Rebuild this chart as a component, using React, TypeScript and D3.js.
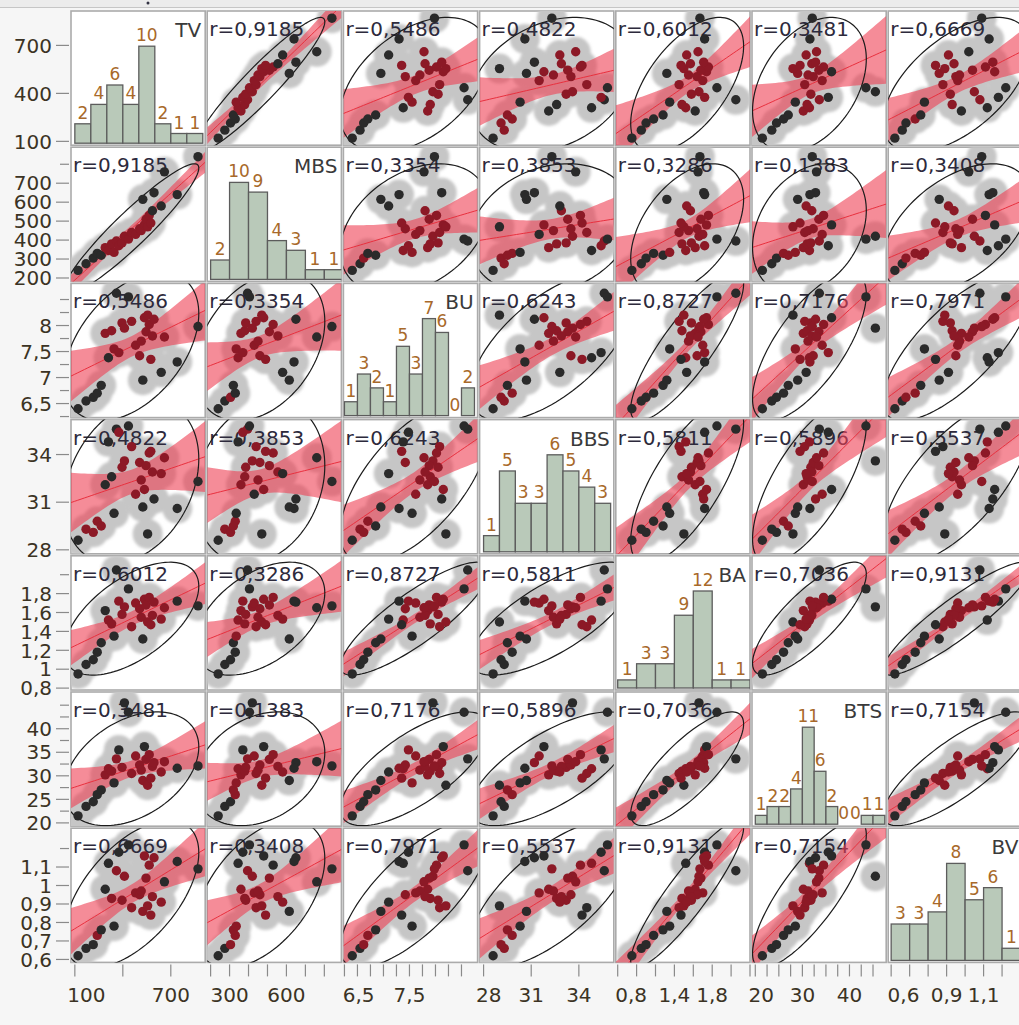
import React, { useEffect, useRef } from 'react';
import * as d3 from 'd3';

// variables in matrix order
const variables = ['TV', 'MBS', 'BU', 'BBS', 'BA', 'BTS', 'BV'];

const tv = [120, 170, 215, 240, 265, 290, 310, 330, 345, 360, 375, 395, 410, 435, 455, 480, 505, 515, 525, 535, 545, 555, 565, 575, 585, 595, 640, 660, 740, 870];
const mbs = [240, 275, 305, 330, 320, 360, 345, 380, 335, 395, 370, 385, 420, 405, 440, 430, 460, 450, 615, 480, 510, 470, 530, 490, 555, 650, 580, 760, 640, 840];
const bu = [6.4, 6.55, 6.62, 6.7, 6.85, 7.85, 7.38, 7.9, 7.55, 8.62, 7.48, 8.05, 7.95, 8.55, 8.08, 7.62, 7.42, 7.7, 6.95, 8.15, 7.88, 8.2, 8.02, 7.35, 7.8, 8.12, 7.1, 7.78, 7.3, 7.98];
const bbs = [28.6, 29.3, 29.1, 29.8, 29.5, 32.1, 34.8, 32.6, 30.3, 35.6, 35.4, 33.2, 33.6, 35.8, 34.5, 31.5, 33.5, 32.4, 30.7, 31.8, 33.3, 29.0, 34.1, 34.2, 32.9, 31.2, 32.8, 33.8, 30.6, 32.3];
const ba = [0.95, 1.05, 1.1, 1.18, 1.28, 1.62, 1.52, 1.48, 1.35, 2.05, 1.72, 1.58, 1.66, 1.85, 1.45, 1.7, 1.64, 1.55, 1.32, 1.74, 1.68, 1.5, 1.76, 1.47, 1.57, 1.71, 1.53, 1.65, 1.72, 1.67];
const bts = [21.5, 23.5, 24.5, 26.0, 27.0, 30.2, 31.5, 31.0, 28.5, 33.6, 35.5, 31.8, 45.5, 43.5, 30.5, 34.2, 32.3, 31.2, 29.0, 36.2, 33.5, 28.0, 34.5, 29.5, 32.0, 32.8, 30.8, 33.0, 31.6, 32.1];
const bv = [0.62, 0.66, 0.68, 0.73, 0.76, 0.98, 1.12, 0.93, 0.78, 1.08, 1.18, 0.92, 1.05, 1.22, 0.88, 0.96, 0.95, 0.97, 0.86, 1.16, 1.04, 0.89, 1.11, 0.84, 0.94, 1.15, 0.91, 1.02, 1.13, 1.09];

// correlations as printed (upper triangle, row by row)
const correlations = [
  '0,9185', '0,5486', '0,4822', '0,6012', '0,3481', '0,6669',
  '0,3354', '0,3853', '0,3286', '0,1383', '0,3408',
  '0,6243', '0,8727', '0,7176', '0,7971',
  '0,5811', '0,5896', '0,5537',
  '0,7036', '0,9131',
  '0,7154',
];

// axis ranges
const domains: [number, number][] = [[76, 915], [182, 890], [6.23, 8.81], [27.75, 36.2], [0.78, 2.2], [19.3, 47.8], [0.584, 1.31]];

// histogram bins: start and width
const binStarts = [100, 200, 6.25, 28, 0.8, 20, 0.6];
const binWidths = [100, 100, 0.25, 1, 0.2, 2.5, 0.1];
const binCounts = [8, 7, 10, 8, 7, 11, 7];

// ticks
const yTicks = [
  [100, 400, 700],
  [200, 300, 400, 500, 600, 700, 800],
  [6.25, 6.5, 6.75, 7, 7.25, 7.5, 7.75, 8, 8.25, 8.5],
  [28, 31, 34],
  [0.8, 1, 1.2, 1.4, 1.6, 1.8, 2],
  [20, 22.5, 25, 27.5, 30, 32.5, 35, 37.5, 40, 42.5, 45],
  [0.6, 0.7, 0.8, 0.9, 1, 1.1, 1.2],
];
const yLabels = [
  [100, 400, 700],
  [200, 300, 400, 500, 600, 700],
  [6.5, 7, 7.5, 8],
  [28, 31, 34],
  [0.8, 1, 1.2, 1.4, 1.6, 1.8],
  [20, 25, 30, 35, 40],
  [0.6, 0.7, 0.8, 0.9, 1, 1.1],
];
const xTicks = [
  [100, 400, 700],
  [200, 300, 400, 500, 600, 700, 800],
  [6.25, 6.5, 6.75, 7, 7.25, 7.5, 7.75, 8, 8.25, 8.5],
  [28, 31, 34],
  [0.8, 1, 1.2, 1.4, 1.6, 1.8, 2, 2.2],
  [20, 22.5, 25, 27.5, 30, 32.5, 35, 37.5, 40, 42.5, 45],
  [0.6, 0.7, 0.8, 0.9, 1, 1.1, 1.2],
];
const xLabels = [
  [100, 700],
  [300, 600],
  [6.5, 7.5],
  [28, 31, 34],
  [0.8, 1.4, 1.8],
  [20, 30, 40],
  [0.6, 0.9, 1.1],
];

const FONT = '"DejaVu Sans", sans-serif';
const fmt = (v: number) => String(v).replace('.', ',');

const App: React.FC = () => {
  const svgRef = useRef<SVGSVGElement>(null);

  useEffect(() => {
    draw();
  }, []);

  const draw = () => {
    if (!svgRef.current) return;
    const W = 1019;
    const H = 1025;
    const gridLeft = 70;
    const gridTop = 10;
    const cell = 136.2;
    const columns = [tv, mbs, bu, bbs, ba, bts, bv];
    const n = tv.length;
    const k = variables.length;

    const svg = d3.select(svgRef.current);
    svg.selectAll('*').remove();

    svg.append('rect').attr('width', W).attr('height', H).attr('fill', '#f6f6f6');
    svg.append('rect').attr('width', W).attr('height', 7).attr('fill', '#ececec');
    svg.append('line').attr('x1', 0).attr('x2', W).attr('y1', 7.5).attr('y2', 7.5).attr('stroke', '#c6c6c6');
    svg.append('circle').attr('cx', 148).attr('cy', 3).attr('r', 1.5).attr('fill', '#334');

    const defs = svg.append('defs');
    defs.append('filter')
      .attr('id', 'blur')
      .attr('filterUnits', 'userSpaceOnUse')
      .attr('x', 0).attr('y', 0).attr('width', W).attr('height', H)
      .append('feGaussianBlur')
      .attr('stdDeviation', 1.4);

    const xScales = variables.map((_, i) =>
      d3.scaleLinear().domain(domains[i]).range([gridLeft + i * cell + 1, gridLeft + (i + 1) * cell - 1]));
    const yScales = variables.map((_, j) =>
      d3.scaleLinear().domain(domains[j]).range([gridTop + (j + 1) * cell - 1, gridTop + j * cell + 1]));

    const corrIndex = (a: number, b: number) => {
      const i = Math.min(a, b);
      const j = Math.max(a, b);
      let idx = 0;
      for (let r = 0; r < i; r++) idx += k - 1 - r;
      return idx + (j - i - 1);
    };

    for (let row = 0; row < k; row++) {
      for (let col = 0; col < k; col++) {
        const x0 = gridLeft + col * cell;
        const y0 = gridTop + row * cell;
        const g = svg.append('g');
        const clipId = `clip-${row}-${col}`;
        defs.append('clipPath').attr('id', clipId)
          .append('rect')
          .attr('x', x0 + 1).attr('y', y0 + 1)
          .attr('width', cell - 2).attr('height', cell - 2);

        g.append('rect')
          .attr('x', x0 + 1).attr('y', y0 + 1)
          .attr('width', cell - 2).attr('height', cell - 2)
          .attr('fill', '#fff')
          .attr('stroke', '#ababab')
          .attr('stroke-width', 1.6);

        const inner = g.append('g').attr('clip-path', `url(#${clipId})`);
        const xs = xScales[col];

        if (row === col) {
          // histogram
          const vals = columns[col];
          const counts = d3.range(binCounts[col]).map(() => 0);
          vals.forEach(v => {
            const b = Math.floor((v - binStarts[col]) / binWidths[col] + 1e-9);
            if (b >= 0 && b < counts.length) counts[b]++;
          });
          const base = y0 + cell - 3;
          const yc = d3.scaleLinear().domain([0, d3.max(counts) as number]).range([base, base - 97]);
          counts.forEach((c, b) => {
            const a0 = binStarts[col] + b * binWidths[col];
            const bx0 = xs(a0);
            const bx1 = xs(a0 + binWidths[col]);
            inner.append('rect')
              .attr('x', bx0).attr('y', yc(c))
              .attr('width', bx1 - bx0).attr('height', base - yc(c))
              .attr('fill', '#b9c9b9')
              .attr('stroke', '#5c5c5c')
              .attr('stroke-width', 1.3);
            inner.append('text')
              .attr('x', (bx0 + bx1) / 2)
              .attr('y', yc(c) - 5)
              .attr('text-anchor', 'middle')
              .style('font-family', FONT)
              .style('font-size', '17px')
              .style('fill', '#a8692a')
              .text(c);
          });
          inner.append('text')
            .attr('x', x0 + cell - 5)
            .attr('y', y0 + 27)
            .attr('text-anchor', 'end')
            .style('font-family', FONT)
            .style('font-size', '20px')
            .style('fill', '#3a3a3a')
            .text(variables[col]);
          continue;
        }

        const ys = yScales[row];
        const xv = columns[col];
        const yv = columns[row];
        const px = xv.map(v => xs(v));
        const py = yv.map(v => ys(v));

        // nonparametric density shading
        inner.append('g')
          .attr('filter', 'url(#blur)')
          .selectAll('circle')
          .data(d3.range(n))
          .join('circle')
          .attr('cx', d => px[d])
          .attr('cy', d => py[d])
          .attr('r', 15)
          .attr('fill', '#c6c6c6');

        inner.append('text')
          .attr('x', x0 + 3)
          .attr('y', y0 + 26)
          .style('font-family', FONT)
          .style('font-size', '20px')
          .style('fill', '#2d2a3c')
          .text('r=' + correlations[corrIndex(row, col)]);

        // linear fit with confidence band
        const mx = d3.mean(xv) as number;
        const my = d3.mean(yv) as number;
        let sxx = 0, syy = 0, sxy = 0;
        for (let t = 0; t < n; t++) {
          sxx += (xv[t] - mx) ** 2;
          syy += (yv[t] - my) ** 2;
          sxy += (xv[t] - mx) * (yv[t] - my);
        }
        const slope = sxy / sxx;
        const icpt = my - slope * mx;
        let sse = 0;
        for (let t = 0; t < n; t++) sse += (yv[t] - icpt - slope * xv[t]) ** 2;
        const s = Math.sqrt(sse / (n - 2));
        const tcrit = 2.048;
        const grid = d3.range(0, 41).map(q => domains[col][0] + (domains[col][1] - domains[col][0]) * q / 40);
        const band = grid.map(x => {
          const yh = icpt + slope * x;
          const half = tcrit * s * Math.sqrt(1 / n + (x - mx) ** 2 / sxx);
          return { x, lo: yh - half, hi: yh + half, yh };
        });
        inner.append('path')
          .datum(band)
          .attr('d', d3.area<any>().x(d => xs(d.x)).y0(d => ys(d.lo)).y1(d => ys(d.hi)))
          .attr('fill', '#ee4053')
          .attr('fill-opacity', 0.6);
        inner.append('path')
          .datum(band)
          .attr('d', d3.line<any>().x(d => xs(d.x)).y(d => ys(d.yh)))
          .attr('fill', 'none')
          .attr('stroke', '#e8303e')
          .attr('stroke-width', 1);

        // 95% density ellipse
        const sx = Math.sqrt(sxx / (n - 1));
        const sy = Math.sqrt(syy / (n - 1));
        const rho = sxy / Math.sqrt(sxx * syy);
        const c = Math.sqrt(5.991);
        const ell = d3.range(0, 121).map(q => {
          const a = (q / 120) * Math.PI * 2;
          return [
            xs(mx + c * sx * Math.cos(a)),
            ys(my + c * sy * (rho * Math.cos(a) + Math.sqrt(1 - rho * rho) * Math.sin(a))),
          ] as [number, number];
        });
        inner.append('path')
          .attr('d', d3.line()(ell))
          .attr('fill', 'none')
          .attr('stroke', '#1c1c1c')
          .attr('stroke-width', 1.2);

        // points, coloured by local density
        const dens = d3.range(n).map(a => {
          let sum = 0;
          for (let b = 0; b < n; b++) {
            const d2 = (px[a] - px[b]) ** 2 + (py[a] - py[b]) ** 2;
            sum += Math.exp(-d2 / (2 * 14 * 14));
          }
          return sum;
        });
        const cut = d3.quantile([...dens].sort(d3.ascending), 0.4) as number;
        inner.append('g')
          .selectAll('circle')
          .data(d3.range(n))
          .join('circle')
          .attr('cx', d => px[d])
          .attr('cy', d => py[d])
          .attr('r', 4.7)
          .attr('fill', d => (dens[d] >= cut ? '#8c1926' : '#2a2a2a'));
      }
    }

    // left axis
    const yAxisRight = gridLeft - 1;
    for (let row = 0; row < k; row++) {
      const ys = yScales[row];
      yTicks[row].forEach(t => {
        const labeled = yLabels[row].includes(t);
        svg.append('line')
          .attr('x1', labeled ? yAxisRight - 13 : yAxisRight - 9)
          .attr('x2', yAxisRight)
          .attr('y1', ys(t)).attr('y2', ys(t))
          .attr('stroke', '#8a8a8a')
          .attr('stroke-width', 1.2);
      });
      yLabels[row].forEach(t => {
        svg.append('text')
          .attr('x', 52)
          .attr('y', ys(t))
          .attr('dy', '0.36em')
          .attr('text-anchor', 'end')
          .style('font-family', FONT)
          .style('font-size', '20px')
          .style('fill', '#3b3324')
          .text(fmt(t));
      });
    }

    // bottom axis
    const axisTop = gridTop + k * cell + 1;
    for (let col = 0; col < k; col++) {
      const xs = xScales[col];
      const colLeft = gridLeft + col * cell;
      xTicks[col].forEach(t => {
        svg.append('line')
          .attr('x1', xs(t)).attr('x2', xs(t))
          .attr('y1', axisTop).attr('y2', axisTop + 12)
          .attr('stroke', '#8a8a8a')
          .attr('stroke-width', 1.2);
      });
      xLabels[col].forEach(t => {
        const label = fmt(t);
        const w = label.length * 12.2;
        const cx = Math.max(xs(t), colLeft - 2 + w / 2);
        svg.append('text')
          .attr('x', cx)
          .attr('y', axisTop + 38)
          .attr('text-anchor', 'middle')
          .style('font-family', FONT)
          .style('font-size', '20px')
          .style('fill', '#3b3324')
          .text(label);
      });
    }
  };

  return (
    <div style={{ position: 'absolute', left: 0, top: 0 }}>
      <svg ref={svgRef} width={1019} height={1025} style={{ display: 'block' }}></svg>
    </div>
  );
};

export default App;
